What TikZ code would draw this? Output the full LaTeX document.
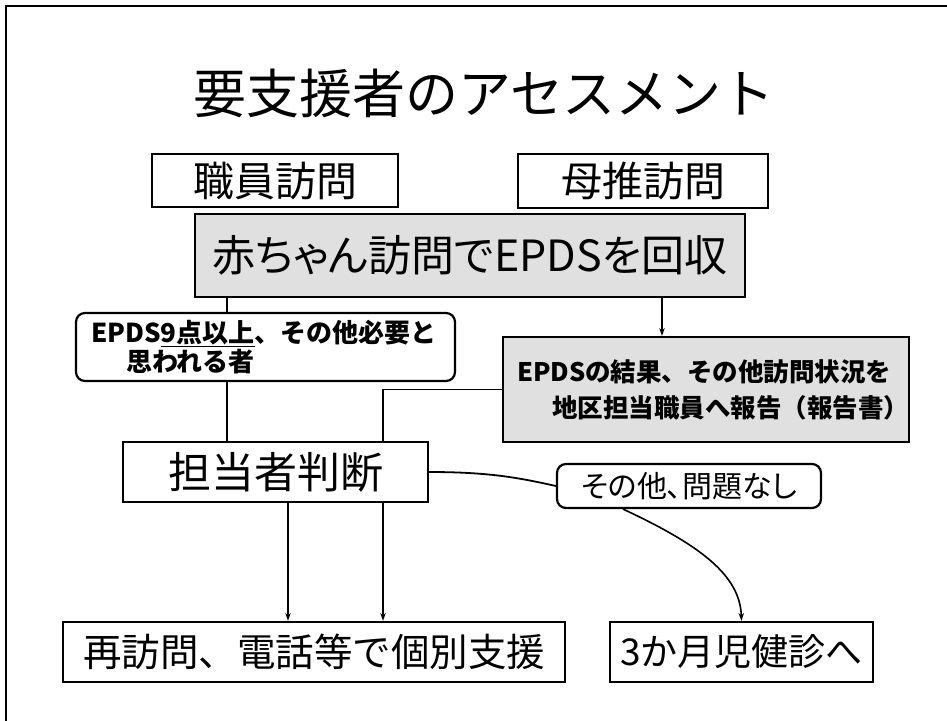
\documentclass[tikz,border=0pt]{standalone}
\usepackage{fontspec}
\setmainfont{Noto Sans CJK JP}
\newfontfamily\jpprop[RawFeature=+palt]{Noto Sans CJK JP}
\usetikzlibrary{arrows.meta,calc}
\tikzset{
  boxa/.style={draw=black, line width=2.2pt, inner sep=0pt, fill=white},
  graybox/.style={boxa, fill=black!12},
  roundbox/.style={boxa, rounded corners=9pt},
  conn/.style={line width=1.8pt},
  arr/.style={line width=1.6pt, -{Stealth[length=8pt,width=5.5pt]}},
  thinarr/.style={line width=1.2pt, -{Stealth[length=8pt,width=5.5pt]}},
}
\begin{document}
\begin{tikzpicture}[x=1pt,y=-1pt]
\useasboundingbox (0,0) rectangle (947,720);
\fill[white] (0,0) rectangle (947,720);
% frame
\draw[line width=2.2pt] (6,724) -- (6,6) -- (950,6);
% title
\node (title) at (484,93) {\fontsize{53}{60}\selectfont 要支援者のアセスメント};
% top boxes
\node[boxa, minimum width=246pt, minimum height=53pt] (shokuin) at (275,180.5)
  {\fontsize{41}{44}\selectfont 職員訪問};
\node[boxa, minimum width=250pt, minimum height=54pt] (bosui) at (643,181)
  {\fontsize{41}{44}\selectfont 母推訪問};
\node[graybox, minimum width=550pt, minimum height=83pt] (aka) at (470,255.5)
  {\fontsize{43}{50}\selectfont\jpprop 赤ちゃん訪問でEPDSを回収};
% EPDS9 box
\node[roundbox, minimum width=379pt, minimum height=68pt, text width=349pt, align=left, inner xsep=15pt,
      font={\fontsize{26}{29}\selectfont\bfseries}] (e9) at (265.5,347)
  {EPDS\underline{9点以上}、その他必要と\\\hspace*{35pt}思われる者};
% EPDS result box
\node[graybox, minimum width=406pt, minimum height=105pt, text width=378pt, align=left, inner xsep=14pt,
      font={\fontsize{25.5}{36}\selectfont\bfseries}] (er) at (706,389.5)
  {EPDSの結果、その他訪問状況を\\\hspace*{35pt}地区担当職員へ報告（報告書）};
% judgement
\node[boxa, minimum width=305pt, minimum height=60pt] (judge) at (275.5,472)
  {\fontsize{43}{46}\selectfont 担当者判断};
% other
\node[roundbox, minimum width=264pt, minimum height=44pt] (other) at (689,486)
  {\fontsize{30}{32}\selectfont\jpprop その他、問題なし};
% bottom boxes
\node[boxa, minimum width=502pt, minimum height=60pt] (revisit) at (314,652)
  {\fontsize{38.5}{42}\selectfont 再訪問、電話等で個別支援};
\node[boxa, minimum width=263pt, minimum height=60pt] (kenshin) at (741.5,652)
  {\fontsize{37}{40}\selectfont 3か月児健診へ};
% connectors
\draw[conn] ([xshift=-243pt]aka.south) -- ([xshift=-243pt]aka.south |- e9.north);
\draw[thinarr] ([xshift=192pt]aka.south) -- ([xshift=192pt]aka.south |- er.north);
\draw[conn] ([xshift=-38.5pt]e9.south) -- ([xshift=-38.5pt]e9.south |- judge.north);
\draw[conn] (er.west) -| ([xshift=107.5pt]judge.north);
\draw[conn] (judge.east) .. controls (490,472) and (520,478) .. (other.west);
\draw[arr] ([xshift=12.5pt]judge.south) -- ([xshift=12.5pt]judge.south |- revisit.north);
\draw[arr] ([xshift=107.5pt]judge.south) -- ([xshift=107.5pt]judge.south |- revisit.north);
\draw[arr] ([xshift=-66pt]other.south) .. controls (700,545) and (740,575) .. (kenshin.north);
\end{tikzpicture}
\end{document}
